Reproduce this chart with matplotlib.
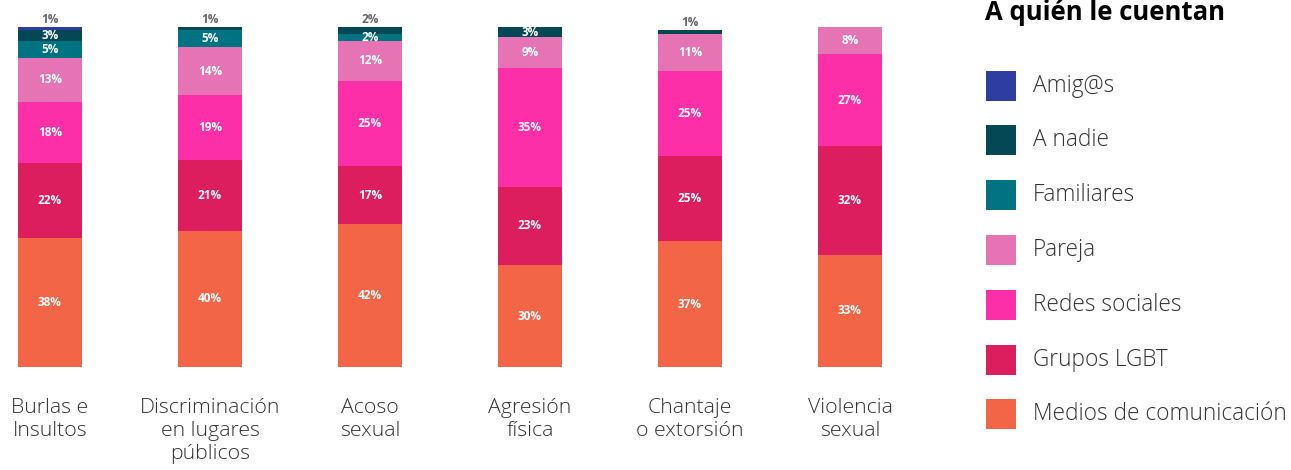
import matplotlib
matplotlib.use("Agg")
import numpy as np
import matplotlib.pyplot as plt
from matplotlib.patches import Rectangle

plt.rcParams['font.family'] = ['Open Sans', 'DejaVu Sans']

# data
categories = ["Burlas e\nInsultos", "Discriminación\nen lugares\npúblicos", "Acoso\nsexual",
              "Agresión\nfísica", "Chantaje\no extorsión", "Violencia\nsexual"]
# stacked bottom -> top
series = ["Medios de comunicación", "Grupos LGBT", "Redes sociales", "Pareja",
          "Familiares", "A nadie", "Amig@s"]
medios = [38, 40, 42, 30, 37, 33]
grupos = [22, 21, 17, 23, 25, 32]
redes = [18, 19, 25, 35, 25, 27]
pareja = [13, 14, 12, 9, 11, 8]
familiares = [5, 5, 2, 0, 0, 0]
a_nadie = [3, 1, 2, 3, 1, 0]
amigos = [1, 0, 0, 0, 0, 0]
colors = ["#F26546", "#DC1D5E", "#FC2FA8", "#E673B4", "#007383", "#044855", "#2E3EA0"]

values = [medios, grupos, redes, pareja, familiares, a_nadie, amigos]

W, H = 1291, 470
fig = plt.figure(figsize=(W / 100, H / 100), dpi=100)
ax = fig.add_axes([0, 103 / H, 900 / W, 340 / H])

x = np.arange(len(categories))
bottom = np.zeros(len(categories))
tops = np.array([sum(v[i] for v in values) for i in range(len(categories))])
for vals, col in zip(values, colors):
    vals = np.array(vals, dtype=float)
    ax.bar(x, vals, 0.406, bottom=bottom, color=col, linewidth=0)
    for i, v in enumerate(vals):
        if v <= 0:
            continue
        is_top = abs(bottom[i] + v - tops[i]) < 1e-9
        if is_top and v <= 2:
            # tiny top segment: label sits above the bar
            ax.text(x[i], bottom[i] + v + 0.4, "%d%%" % v, ha='center', va='bottom',
                    color='#666666', fontsize=8.5, fontweight='bold', clip_on=False)
        else:
            ax.text(x[i], bottom[i] + v / 2, "%d%%" % v, ha='center', va='center',
                    color='white', fontsize=8.5, fontweight='bold')
    bottom += vals

ax.set_xlim(-0.3125, 5.3125)
ax.set_ylim(0, 100)
ax.axis('off')

for i, c in enumerate(categories):
    ax.text(x[i], -0.092, c, transform=ax.get_xaxis_transform(), ha='center', va='top',
            fontsize=15.3, fontweight='light', color='#333333', linespacing=1.2)

# legend, drawn by hand (top -> bottom)
fig.text(985 / W, 1 - 20 / H, "A quién le cuentan", ha='left', va='baseline',
         fontsize=18.5, fontweight='bold', color='black')
for k, (name, col) in enumerate(zip(series[::-1], colors[::-1])):
    yc = 85.5 + 54.8 * k
    fig.add_artist(Rectangle((986 / W, 1 - (yc + 15) / H), 30 / W, 30 / H,
                             transform=fig.transFigure, facecolor=col, edgecolor='none'))
    fig.text(1033 / W, 1 - yc / H, name, ha='left', va='center',
             fontsize=16.3, fontweight='light', color='#333333')

fig.savefig("out.png", dpi=100)
